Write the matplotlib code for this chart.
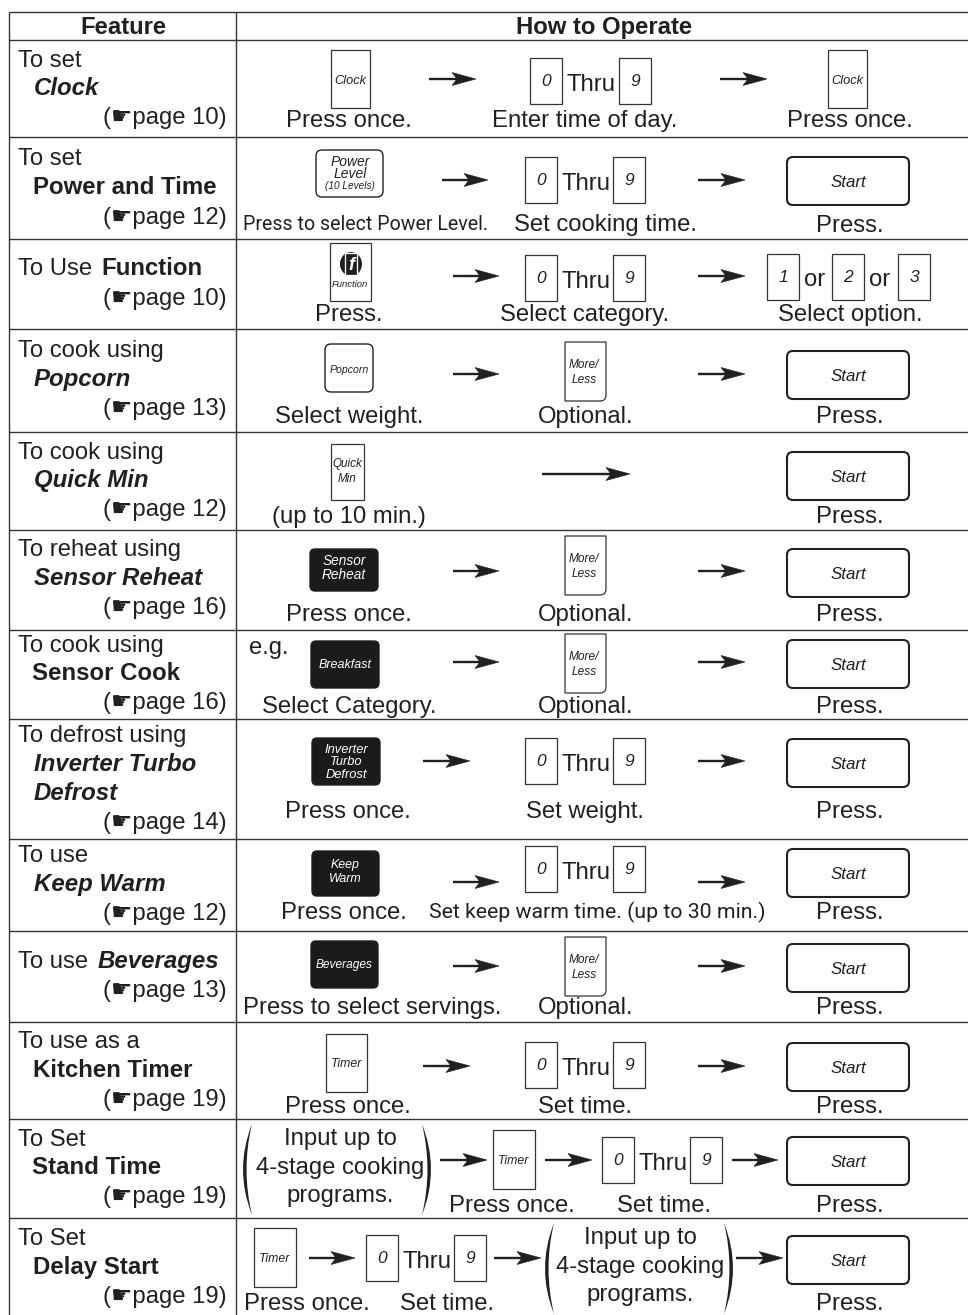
import matplotlib
matplotlib.use('Agg')
import matplotlib.pyplot as plt
from matplotlib.patches import Rectangle, FancyBboxPatch, Polygon, PathPatch, Ellipse
from matplotlib.path import Path

INK = '#231f20'
SANS = ['Liberation Sans', 'DejaVu Sans']
NARROW = ['Roboto', 'Liberation Sans', 'DejaVu Sans']

# Table text
header_labels = ['Feature', 'How to Operate']
row_edges = [12, 40, 137, 239, 329, 432, 530, 630, 719, 839, 931, 1022, 1119, 1218]
intro_lines = ['To set', 'To set', 'To Use', 'To cook using', 'To cook using', 'To reheat using',
               'To cook using', 'To defrost using', 'To use', 'To use', 'To use as a', 'To Set', 'To Set']
feature_names = ['Clock', 'Power and Time', 'Function', 'Popcorn', 'Quick Min', 'Sensor Reheat', 'Sensor Cook',
                 'Inverter Turbo', 'Keep Warm', 'Beverages', 'Kitchen Timer', 'Stand Time', 'Delay Start']
page_numbers = [10, 12, 10, 13, 12, 16, 16, 14, 12, 13, 19, 19, 19]
program_lines = ['Input up to', '4-stage cooking', 'programs.']

fig = plt.figure(figsize=(9.68, 13.15), dpi=100)
ax = fig.add_axes([0, 0, 1, 1])
ax.set_xlim(0, 968)
ax.set_ylim(1315, 0)
ax.axis('off')


def txt(x, y, s, size=17.2, ha='center', family=SANS, weight='normal', style='normal', color=INK):
    # y is the visual middle of the capitals, so shift to baseline
    ax.text(x, y + size * 0.47, s, fontsize=size, ha=ha, va='baseline', family=family,
            weight=weight, style=style, color=color)


def caption(x, y, s, narrow=None):
    if narrow:
        # the source sets these lines condensed, a smaller Roboto gets the same width
        txt(x, y, s, family=NARROW, size=narrow)
    else:
        txt(x, y, s)


def label(x, ys, lines, size=9, color=INK):
    for y, s in zip(ys, lines):
        txt(x, y, s, size=size, style='italic', color=color)


def box(x0, y0, x1, y1, lines=(), ys=(), size=9):
    ax.add_patch(Rectangle((x0, y0), x1 - x0, y1 - y0, fc='white', ec='#333333', lw=0.9))
    label((x0 + x1) / 2, ys, lines, size=size)


def rounded(x0, y0, x1, y1, r=6, lw=1.0, fc='white'):
    ax.add_patch(FancyBboxPatch((x0, y0), x1 - x0, y1 - y0, boxstyle=f'round,pad=0,rounding_size={r}',
                                fc=fc, ec=INK, lw=lw))


def dark(x0, y0, x1, y1, lines, ys, size=9.3):
    rounded(x0, y0, x1, y1, r=5, fc='#1c1a1b')
    label((x0 + x1) / 2, ys, lines, size=size, color='white')


def start(y0):
    rounded(787, y0, 909, y0 + 48, r=6, lw=1.5)
    txt(848, y0 + 24, 'Start', size=12.2, style='italic')


def more_less(y0):
    x0, x1, y1 = 565, 606, y0 + 59
    verts = [(x0, y0), (x1, y0), (x1, y1 - 6), (x1, y1), (x1 - 6, y1), (x0, y1), (x0, y0)]
    codes = [Path.MOVETO, Path.LINETO, Path.LINETO, Path.CURVE3, Path.CURVE3, Path.LINETO, Path.CLOSEPOLY]
    ax.add_patch(PathPatch(Path(verts, codes), fc='white', ec='#333333', lw=0.9))
    label(584, [y0 + 22, y0 + 37], ['More/', 'Less'], size=8.6)


def digit(x0, y0, s):
    box(x0, y0, x0 + 32, y0 + 46, [s], [y0 + 22], size=12.5)


def thru(x0, y0, dx=88):
    # 0 Thru 9 group, x0 is the left edge of the first key
    digit(x0, y0, '0')
    txt(x0 + 61, y0 + 25, 'Thru')
    digit(x0 + dx, y0, '9')


def arrow(x0, x1, y):
    ax.plot([x0, x1 - 10], [y, y], color=INK, lw=1.7, solid_capstyle='butt')
    ax.add_patch(Polygon([(x1, y), (x1 - 24, y - 6.5), (x1 - 19, y), (x1 - 24, y + 6.5)], fc=INK, ec=INK, lw=0.4))


def paren(x_tip, x_mid, y0, y1):
    ym = (y0 + y1) / 2
    bulge = (x_mid - x_tip) * 2
    w = 7.0 if x_mid < x_tip else -7.0
    verts = [(x_tip, y0), (x_tip + bulge, ym), (x_tip, y1), (x_tip + bulge + w, ym), (x_tip, y0)]
    codes = [Path.MOVETO, Path.CURVE3, Path.CURVE3, Path.CURVE3, Path.CURVE3]
    ax.add_patch(PathPatch(Path(verts, codes), fc=INK, ec='none'))


def programs(xc, y0, x_left, x_right):
    paren(x_left + 9, x_left, y0, y0 + 91)
    paren(x_right - 9, x_right, y0, y0 + 91)
    for dy, s in zip([13, 42, 70], program_lines):
        txt(xc, y0 + dy, s)


# Table grid
for y in row_edges:
    ax.plot([9, 968], [y, y], color='#333333', lw=1.0, solid_capstyle='butt')
for x in [9, 236]:
    ax.plot([x, x], [12, 1315], color='#333333', lw=1.0, solid_capstyle='butt')
txt(123, 26, header_labels[0], weight='bold', size=17.2)
txt(604, 26, header_labels[1], weight='bold', size=17.2)

# Feature column
bold_italic = [True, False, False, True, True, True, False, True, True, True, False, False, False]
intro_y = [59, 157, 267, 349, 451, 548, 644, 734, 854, 960, 1040, 1138, 1237]
name_y = [87, 186, 267, 378, 479, 577, 672, 763, 883, 960, 1069, 1166, 1266]
name_x = [34, 33, 101, 34, 34, 34, 32, 34, 34, 98, 33, 32, 33]
page_y = [116, 216, 297, 407, 508, 606, 701, 821, 912, 989, 1098, 1195, 1295]
for i in range(13):
    txt(18, intro_y[i], intro_lines[i], ha='left')
    txt(name_x[i], name_y[i], feature_names[i], ha='left', size=17.3, weight='bold',
        style='italic' if bold_italic[i] else 'normal')
    txt(227, page_y[i], f'(\u261bpage {page_numbers[i]})', ha='right')
txt(34, 792, 'Defrost', ha='left', size=17.3, weight='bold', style='italic')

# Clock
box(331, 50, 370, 108, ['Clock'], [80], size=9.2)
arrow(429, 476, 79)
thru(530, 58, dx=89)
arrow(720, 767, 79)
box(828, 50, 867, 108, ['Clock'], [80], size=9.2)
caption(349, 119, 'Press once.')
caption(585, 119, 'Enter time of day.')
caption(850, 119, 'Press once.')

# Power and Time
rounded(316, 150, 383, 197)
label(350, [161, 173], ['Power', 'Level'], size=10)
label(350, [186], ['(10 Levels)'], size=7.2)
arrow(442, 488, 180)
thru(525, 157)
arrow(698, 745, 180)
start(157)
caption(366, 223, 'Press to select Power Level.', narrow=14.1)
caption(605, 223, 'Set cooking time.')
caption(850, 224, 'Press.')

# Function
box(330, 243, 371, 301)
ax.add_patch(Ellipse((351, 264), 22, 24, fc=INK, ec='none'))
ax.add_patch(Rectangle((345, 253), 12, 22, fc=INK, ec='white', lw=0.9))
txt(351, 264, 'f', size=13, weight='bold', style='italic', color='white')
label(350, [284], ['Function'], size=6.8)
arrow(453, 499, 276)
thru(525, 255)
arrow(698, 745, 276)
digit(767, 254, '1')
txt(815, 278, 'or')
digit(832, 254, '2')
txt(880, 278, 'or')
digit(898, 254, '3')
caption(349, 313, 'Press.')
caption(585, 313, 'Select category.')
caption(850, 313, 'Select option.')

# Popcorn
rounded(325, 344, 373, 392)
label(349, [369], ['Popcorn'], size=7.6)
arrow(453, 499, 374)
more_less(342)
arrow(698, 745, 374)
start(351)
caption(349, 415, 'Select weight.')
caption(586, 415, 'Optional.')
caption(850, 415, 'Press.')

# Quick Min
box(331, 444, 364, 500, ['Quick', 'Min'], [463, 478], size=8.4)
arrow(542, 630, 474)
start(452)
caption(349, 515, '(up to 10 min.)')
caption(850, 515, 'Press.')

# Sensor Reheat
dark(310, 549, 378, 591, ['Sensor', 'Reheat'], [560, 574], size=9.8)
arrow(453, 499, 571)
more_less(536)
arrow(698, 745, 571)
start(549)
caption(349, 613, 'Press once.')
caption(586, 613, 'Optional.')
caption(850, 613, 'Press.')

# Sensor Cook
txt(269, 646, 'e.g.')
dark(311, 641, 379, 688, ['Breakfast'], [664], size=9)
arrow(453, 499, 662)
more_less(634)
arrow(698, 745, 662)
start(640)
caption(349, 705, 'Select Category.')
caption(586, 705, 'Optional.')
caption(850, 705, 'Press.')

# Inverter Turbo Defrost
dark(312, 738, 380, 785, ['Inverter', 'Turbo', 'Defrost'], [749, 761, 774])
arrow(423, 470, 761)
thru(525, 738)
arrow(698, 745, 761)
start(739)
caption(348, 810, 'Press once.')
caption(585, 810, 'Set weight.')
caption(850, 810, 'Press.')

# Keep Warm
dark(312, 851, 379, 896, ['Keep', 'Warm'], [864, 878], size=8.9)
arrow(453, 499, 882)
thru(525, 846)
arrow(698, 745, 882)
start(849)
caption(344, 911, 'Press once.')
caption(597, 911, 'Set keep warm time. (up to 30 min.)', narrow=15.3)
caption(850, 911, 'Press.')

# Beverages
dark(311, 941, 378, 988, ['Beverages'], [964], size=8.6)
arrow(453, 499, 966)
more_less(937)
arrow(698, 745, 966)
start(944)
caption(372, 1006, 'Press to select servings.')
caption(586, 1006, 'Optional.')
caption(850, 1006, 'Press.')

# Kitchen Timer
box(326, 1034, 367, 1092, ['Timer'], [1063], size=8.8)
arrow(423, 470, 1066)
thru(525, 1042)
arrow(698, 745, 1066)
start(1043)
caption(348, 1105, 'Press once.')
caption(585, 1105, 'Set time.')
caption(850, 1105, 'Press.')

# Stand Time
programs(340, 1124, 243, 431)
arrow(440, 487, 1160)
box(493, 1130, 535, 1189, ['Timer'], [1160], size=8.8)
arrow(545, 592, 1160)
thru(602, 1137)
arrow(732, 778, 1160)
start(1137)
caption(512, 1204, 'Press once.')
caption(664, 1204, 'Set time.')
caption(850, 1204, 'Press.')

# Delay Start
box(254, 1228, 296, 1287, ['Timer'], [1258], size=8.8)
arrow(309, 355, 1258)
thru(366, 1235)
arrow(494, 541, 1258)
programs(640, 1223, 545, 733)
arrow(736, 783, 1258)
start(1236)
caption(307, 1302, 'Press once.')
caption(447, 1302, 'Set time.')
caption(850, 1302, 'Press.')

fig.savefig('out.png', dpi=100)
